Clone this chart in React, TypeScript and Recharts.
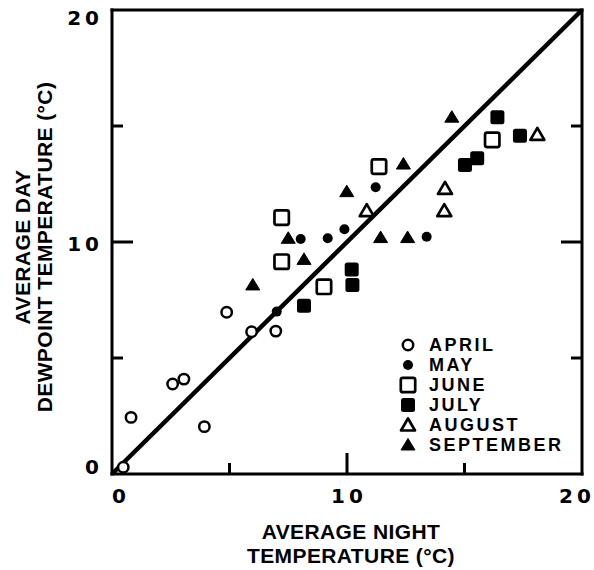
import React from 'react';
import { ScatterChart, Scatter, XAxis, YAxis, ReferenceLine, Legend } from 'recharts';

// Average night temperature (x) vs average day dewpoint temperature (y), °C
const april = [
  { x: 0.48, y: 0.29 }, { x: 0.81, y: 2.44 }, { x: 2.58, y: 3.88 }, { x: 3.06, y: 4.09 },
  { x: 3.93, y: 2.04 }, { x: 4.88, y: 6.97 }, { x: 5.94, y: 6.13 }, { x: 6.97, y: 6.16 },
];
const may = [
  { x: 7.01, y: 7.0 }, { x: 8.03, y: 10.13 }, { x: 9.18, y: 10.16 }, { x: 9.89, y: 10.55 },
  { x: 11.22, y: 12.36 }, { x: 13.39, y: 10.23 },
];
const june = [
  { x: 7.22, y: 11.05 }, { x: 7.22, y: 9.15 }, { x: 9.02, y: 8.07 }, { x: 11.36, y: 13.25 },
  { x: 16.18, y: 14.4 },
];
const july = [
  { x: 8.17, y: 7.25 }, { x: 10.2, y: 8.82 }, { x: 10.23, y: 8.15 }, { x: 15.02, y: 13.32 },
  { x: 15.54, y: 13.61 }, { x: 16.4, y: 15.38 }, { x: 17.36, y: 14.58 },
];
const august = [
  { x: 10.84, y: 11.35 }, { x: 14.17, y: 12.31 }, { x: 14.14, y: 11.35 }, { x: 18.1, y: 14.64 },
];
const september = [
  { x: 5.99, y: 8.15 }, { x: 7.5, y: 10.16 }, { x: 8.17, y: 9.25 }, { x: 9.99, y: 12.17 },
  { x: 11.43, y: 10.19 }, { x: 12.58, y: 10.19 }, { x: 12.4, y: 13.36 }, { x: 14.46, y: 15.38 },
];

const monthNames = ['APRIL', 'MAY', 'JUNE', 'JULY', 'AUGUST', 'SEPTEMBER'];
const monthData = [april, may, june, july, august, september];
const axisTicks = [0, 5, 10, 15, 20];
const labelledTicks = [0, 10, 20];
const identityLine = [{ x: 0, y: 0 }, { x: 20, y: 20 }];
const xTitle = ['AVERAGE NIGHT', 'TEMPERATURE (°C)'];
const yTitle = ['AVERAGE DAY', 'DEWPOINT TEMPERATURE (°C)'];

const symbolKinds: Record<string, string> = {
  APRIL: 'openCircle',
  MAY: 'dot',
  JUNE: 'openSquare',
  JULY: 'filledSquare',
  AUGUST: 'openTriangle',
  SEPTEMBER: 'filledTriangle',
};

const INK = '#000';
const TITLE_FONT = '"Liberation Sans", Arial, sans-serif';
const DIGIT_FONT = '"DejaVu Sans", sans-serif';

function Sym({ kind, cx, cy, scale = 1 }: { kind: string; cx: number; cy: number; scale?: number }) {
  const s = scale;
  switch (kind) {
    case 'openCircle':
      return <circle cx={cx} cy={cy} r={5.2 * s} fill="#fff" stroke={INK} strokeWidth={2.5} />;
    case 'dot':
      return <circle cx={cx} cy={cy} r={5 * s} fill={INK} />;
    case 'openSquare':
      return <rect x={cx - 7.2 * s} y={cy - 7.2 * s} width={14.4 * s} height={14.4 * s} rx={2} fill="#fff" stroke={INK} strokeWidth={2.7} />;
    case 'filledSquare':
      return <rect x={cx - 7 * s} y={cy - 7 * s} width={14 * s} height={14 * s} rx={2.5} fill={INK} />;
    case 'openTriangle':
      return (
        <polygon
          points={`${cx},${cy - 6.5 * s} ${cx + 7 * s},${cy + 5.5 * s} ${cx - 7 * s},${cy + 5.5 * s}`}
          fill="#fff" stroke={INK} strokeWidth={2.7} strokeLinejoin="round"
        />
      );
    default:
      return (
        <polygon
          points={`${cx},${cy - 6.5 * s} ${cx + 7 * s},${cy + 5 * s} ${cx - 7 * s},${cy + 5 * s}`}
          fill={INK} stroke={INK} strokeWidth={1} strokeLinejoin="round"
        />
      );
  }
}

const tickLen = (v: number) => (v === 10 ? 21 : 11);
const isInner = (v: number) => v > 0 && v < 20;

const digitStyle = { fontFamily: DIGIT_FONT, fontWeight: 700, fontSize: 20, letterSpacing: 4 } as const;

const BottomTick = (p: any) => {
  const v = p.payload.value;
  const dx = v === 0 ? 7 : v === 20 ? -7 : 0;
  return (
    <g>
      {isInner(v) && <line x1={p.x} x2={p.x} y1={p.y} y2={p.y - tickLen(v)} stroke={INK} strokeWidth={3} />}
      {labelledTicks.includes(v) && (
        <text x={p.x + dx + 2} y={p.y + 22} textAnchor="middle" dominantBaseline="central" fill={INK} style={digitStyle}>
          {v}
        </text>
      )}
    </g>
  );
};

const TopTick = (p: any) => {
  const v = p.payload.value;
  return <g>{isInner(v) && <line x1={p.x} x2={p.x} y1={p.y} y2={p.y + tickLen(v)} stroke={INK} strokeWidth={3} />}</g>;
};

const LeftTick = (p: any) => {
  const v = p.payload.value;
  const dy = v === 0 ? -7 : v === 20 ? 8 : 2;
  return (
    <g>
      {isInner(v) && <line x1={p.x} x2={p.x + tickLen(v)} y1={p.y} y2={p.y} stroke={INK} strokeWidth={3} />}
      {labelledTicks.includes(v) && (
        <text x={p.x - 9} y={p.y + dy} textAnchor="end" dominantBaseline="central" fill={INK} style={digitStyle}>
          {v}
        </text>
      )}
    </g>
  );
};

const RightTick = (p: any) => {
  const v = p.payload.value;
  return <g>{isInner(v) && <line x1={p.x} x2={p.x - tickLen(v)} y1={p.y} y2={p.y} stroke={INK} strokeWidth={3} />}</g>;
};

const titleStyle = { fontFamily: TITLE_FONT, fontWeight: 700, fontSize: 21, letterSpacing: 0.4 } as const;

const XTitle = (props: any) => {
  const vb = props.viewBox;
  const cx = vb.x + vb.width / 2 + 4;
  return (
    <g>
      {xTitle.map((t, i) => (
        <text key={t} x={cx} y={vb.y + 57 + i * 24} textAnchor="middle" dominantBaseline="central" fill={INK} style={titleStyle}>
          {t}
        </text>
      ))}
    </g>
  );
};

const YTitle = (props: any) => {
  const vb = props.viewBox;
  const cy = vb.y + vb.height / 2 + 5;
  return (
    <g>
      {yTitle.map((t, i) => {
        const x = 22 + i * 22;
        return (
          <text
            key={t}
            x={x}
            y={cy}
            transform={`rotate(-90, ${x}, ${cy})`}
            textAnchor="middle"
            dominantBaseline="central"
            fill={INK}
            style={titleStyle}
          >
            {t}
          </text>
        );
      })}
    </g>
  );
};

const LegendBox = () => (
  <div style={{ display: 'flex', flexDirection: 'column' }}>
    {monthNames.map((name) => (
      <div key={name} style={{ display: 'flex', alignItems: 'center', height: 20 }}>
        <svg width={22} height={20} style={{ display: 'block' }}>
          <Sym kind={symbolKinds[name]} cx={11} cy={10} />
        </svg>
        <span
          style={{
            marginLeft: 10,
            fontFamily: TITLE_FONT,
            fontWeight: 700,
            fontSize: 18,
            letterSpacing: 2.5,
            color: INK,
            lineHeight: '20px',
          }}
        >
          {name}
        </span>
      </div>
    ))}
  </div>
);

const axisLineStyle = { stroke: INK, strokeWidth: 3, strokeLinecap: 'square' as const };

export default function App() {
  return (
    <div style={{ position: 'absolute', left: 0, top: 0, width: 594, height: 570, background: '#fff' }}>
      <ScatterChart width={594} height={570} margin={{ top: 9, right: 11, bottom: 56, left: 62 }}>
        <XAxis
          xAxisId="b"
          type="number"
          dataKey="x"
          domain={[0, 20]}
          ticks={axisTicks}
          interval={0}
          tickSize={0}
          tickMargin={0}
          tickLine={false}
          tick={BottomTick}
          axisLine={axisLineStyle}
          height={40}
          allowDataOverflow
          label={{ content: XTitle }}
        />
        <XAxis
          xAxisId="t"
          orientation="top"
          type="number"
          domain={[0, 20]}
          ticks={axisTicks}
          interval={0}
          tickSize={0}
          tickMargin={0}
          tickLine={false}
          tick={TopTick}
          axisLine={axisLineStyle}
          height={1}
          allowDataOverflow
        />
        <YAxis
          yAxisId="l"
          type="number"
          dataKey="y"
          domain={[0, 20]}
          ticks={axisTicks}
          interval={0}
          tickSize={0}
          tickMargin={0}
          tickLine={false}
          tick={LeftTick}
          axisLine={axisLineStyle}
          width={50}
          allowDataOverflow
          label={{ content: YTitle }}
        />
        <YAxis
          yAxisId="r"
          orientation="right"
          type="number"
          domain={[0, 20]}
          ticks={axisTicks}
          interval={0}
          tickSize={0}
          tickMargin={0}
          tickLine={false}
          tick={RightTick}
          axisLine={axisLineStyle}
          width={1}
          allowDataOverflow
        />
        <ReferenceLine
          xAxisId="b"
          yAxisId="l"
          segment={identityLine}
          stroke={INK}
          strokeWidth={4.5}
          ifOverflow="visible"
        />
        {monthNames.map((name, i) => (
          <Scatter
            key={name}
            name={name}
            data={monthData[i]}
            xAxisId="b"
            yAxisId="l"
            isAnimationActive={false}
            shape={(p: any) => <Sym kind={symbolKinds[name]} cx={p.cx} cy={p.cy} />}
          />
        ))}
        <Legend
          layout="vertical"
          align="center"
          verticalAlign="middle"
          content={LegendBox}
          wrapperStyle={{ left: 397, top: 335, width: 190, height: 120 }}
        />
      </ScatterChart>
    </div>
  );
}
